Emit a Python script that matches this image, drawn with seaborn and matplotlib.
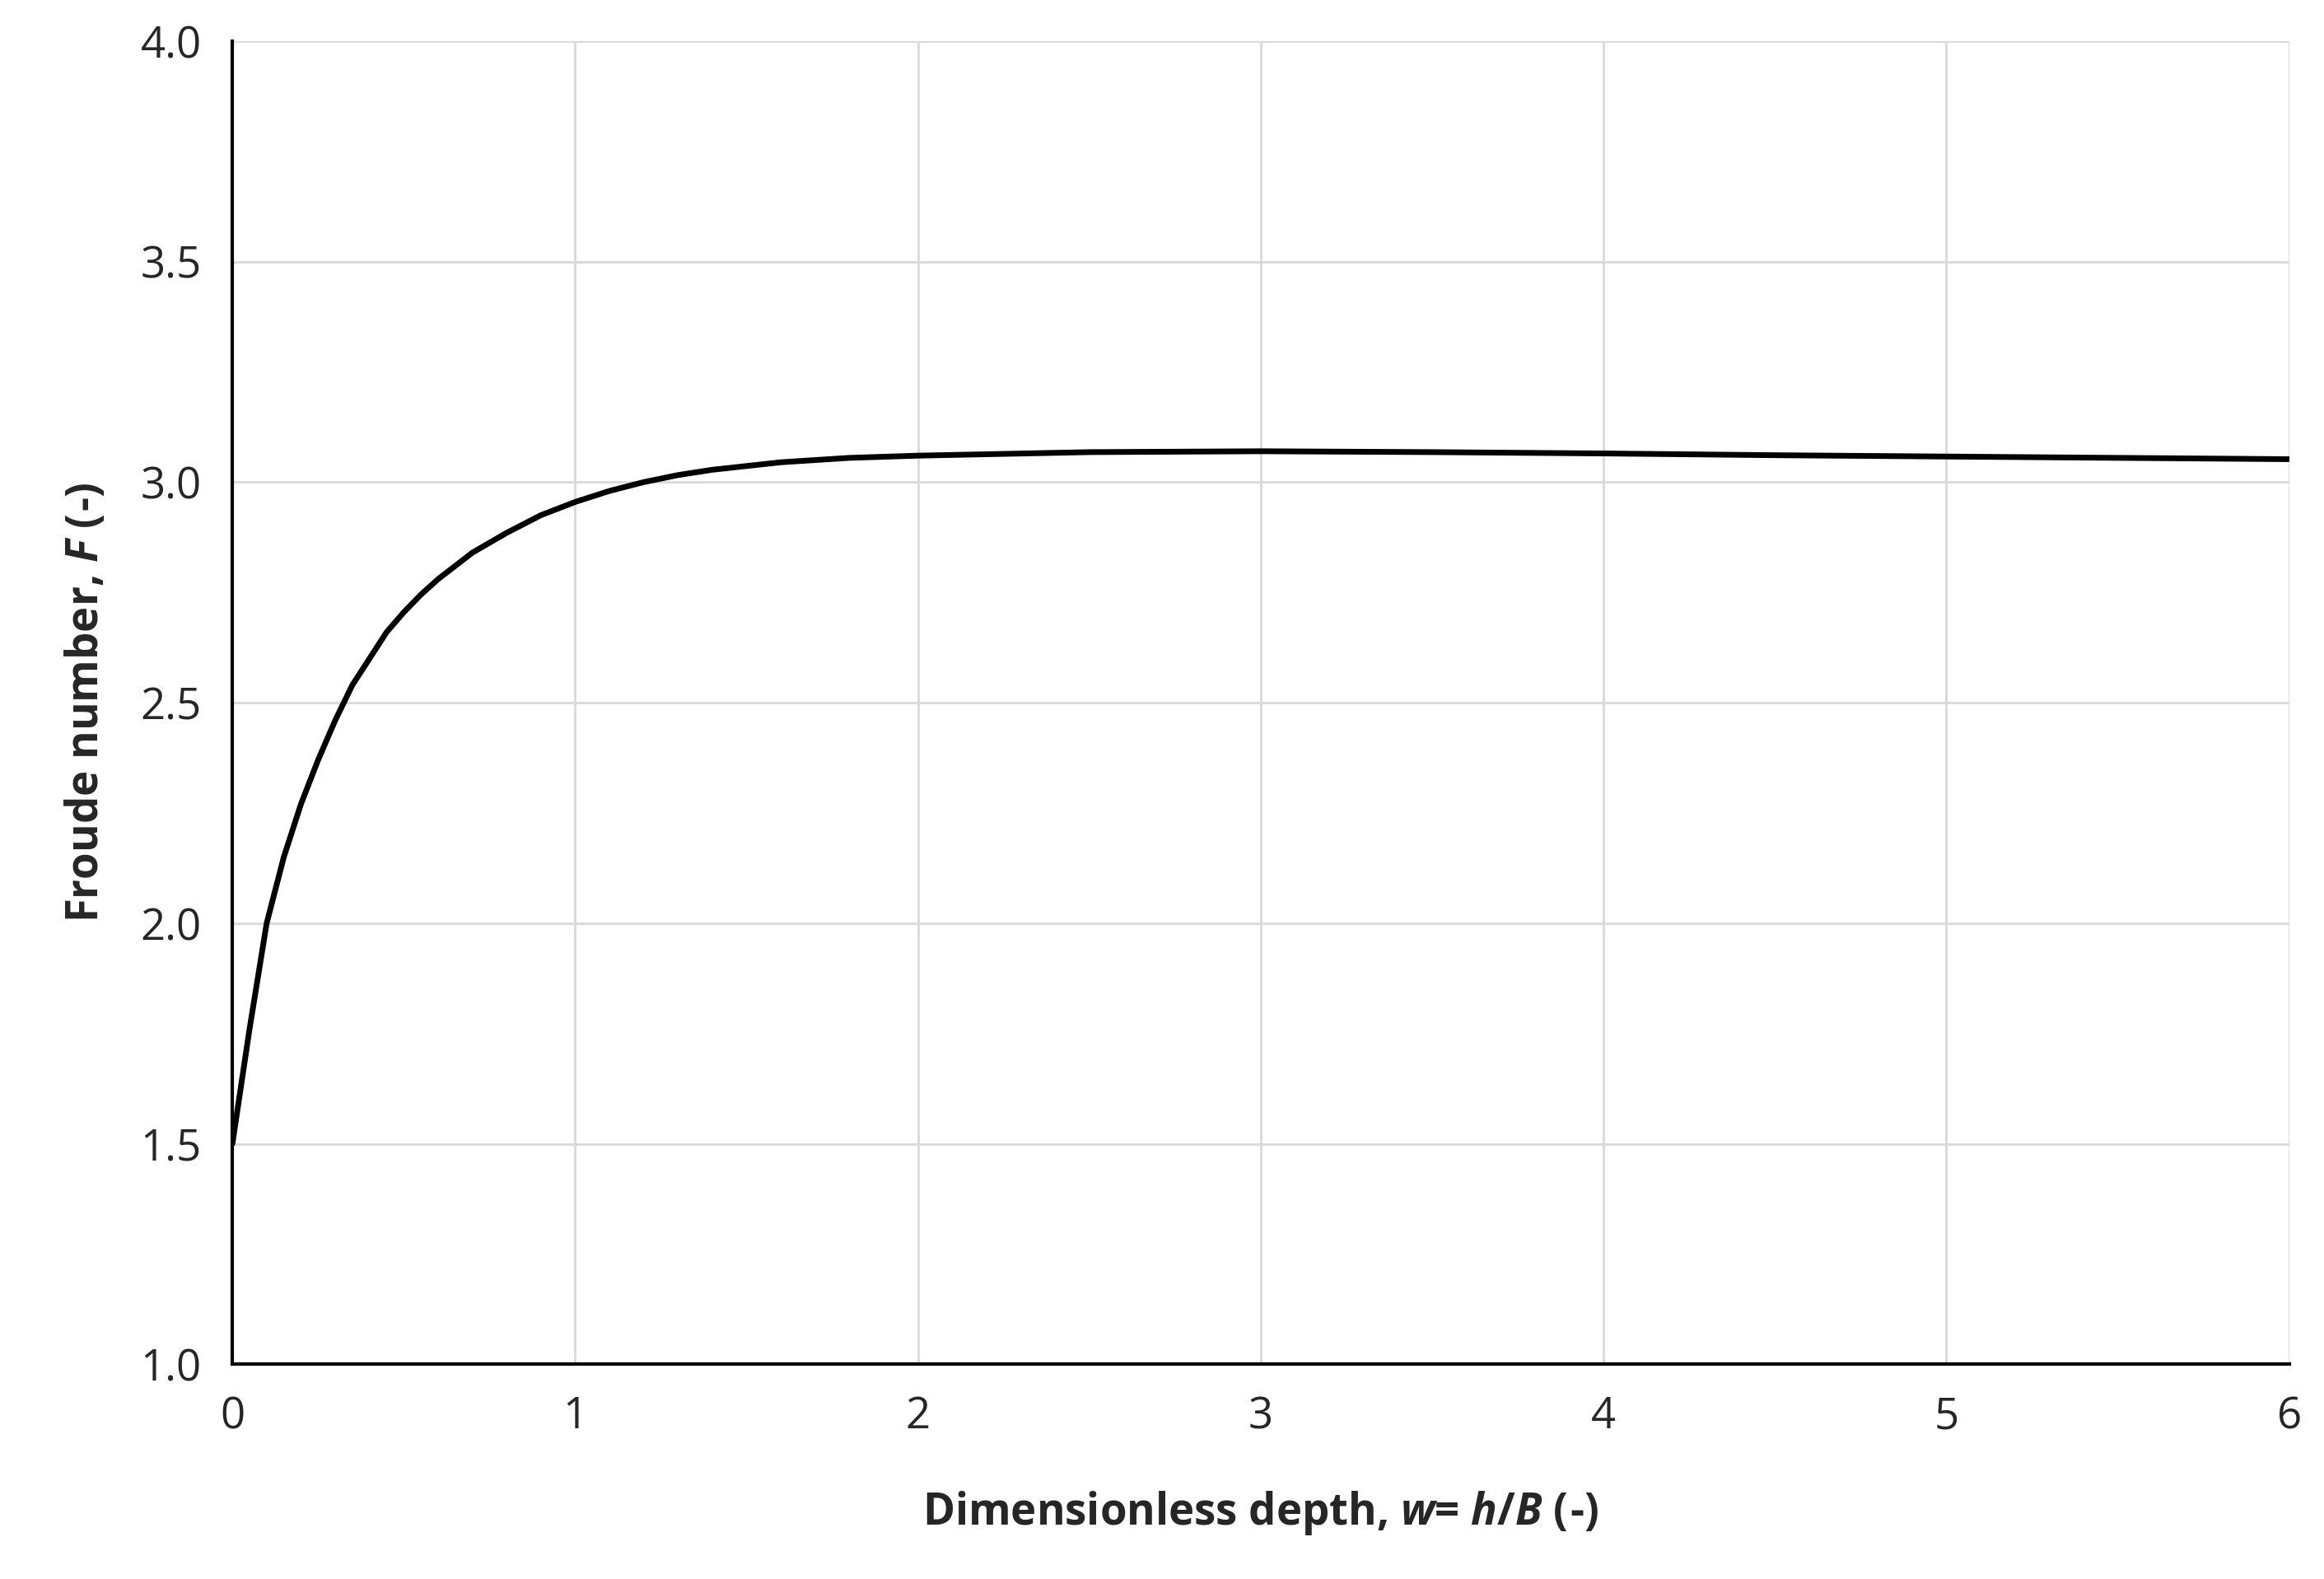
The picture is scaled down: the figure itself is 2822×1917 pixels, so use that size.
import numpy as np
import pandas as pd
import matplotlib
matplotlib.use('Agg')
import matplotlib.pyplot as plt
import seaborn as sns

# values
w = [0, 0.05, 0.1, 0.15, 0.2, 0.25, 0.3, 0.35, 0.4, 0.45, 0.5, 0.55, 0.6, 0.65, 0.7, 0.8, 0.9, 1.0,
     1.1, 1.2, 1.3, 1.4, 1.6, 1.8, 2.0, 2.5, 3.0, 3.5, 4.0, 4.5, 5.0, 5.5, 6.0]
F = [1.5, 1.76, 2.0, 2.15, 2.27, 2.37, 2.46, 2.54, 2.60, 2.66, 2.705, 2.745, 2.78, 2.81, 2.84, 2.885, 2.925, 2.955,
     2.98, 3.0, 3.016, 3.028, 3.045, 3.055, 3.06, 3.068, 3.07, 3.068, 3.065, 3.061, 3.058, 3.055, 3.052]
df = pd.DataFrame({'w': w, 'F': F})

sns.set_style('whitegrid')
plt.rcParams['font.family'] = ['Open Sans', 'DejaVu Sans']
plt.rcParams['mathtext.fontset'] = 'custom'
plt.rcParams['mathtext.it'] = 'Open Sans:italic:bold'
plt.rcParams['mathtext.rm'] = 'Open Sans:bold'

fig = plt.figure(figsize=(14.11, 9.585), dpi=200)
ax = fig.add_axes([0.100, 0.136, 0.885, 0.838])
sns.lineplot(data=df, x='w', y='F', color='black', linewidth=2.5, ax=ax)

ax.set_xlim(0, 6)
ax.set_ylim(1.0, 4.0)
ax.set_xticks(range(0, 7))
ax.set_yticks(np.arange(1.0, 4.01, 0.5))
ax.set_yticklabels([f'{v:.1f}' for v in np.arange(1.0, 4.01, 0.5)])
ax.grid(color='#d9d9d9', linewidth=1)
for s in ['top', 'right']:
    ax.spines[s].set_visible(False)
for s in ['left', 'bottom']:
    ax.spines[s].set_color('black')
    ax.spines[s].set_linewidth(1.5)
ax.tick_params(labelsize=19, pad=10)

ax.set_xlabel(r'Dimensionless depth, $w$= $h/B$ (-)', fontsize=19, fontweight='bold', labelpad=22)
ax.set_ylabel(r'Froude number, $F$ (-)', fontsize=19, fontweight='bold', labelpad=14)

fig.savefig('out.png', dpi=200)
